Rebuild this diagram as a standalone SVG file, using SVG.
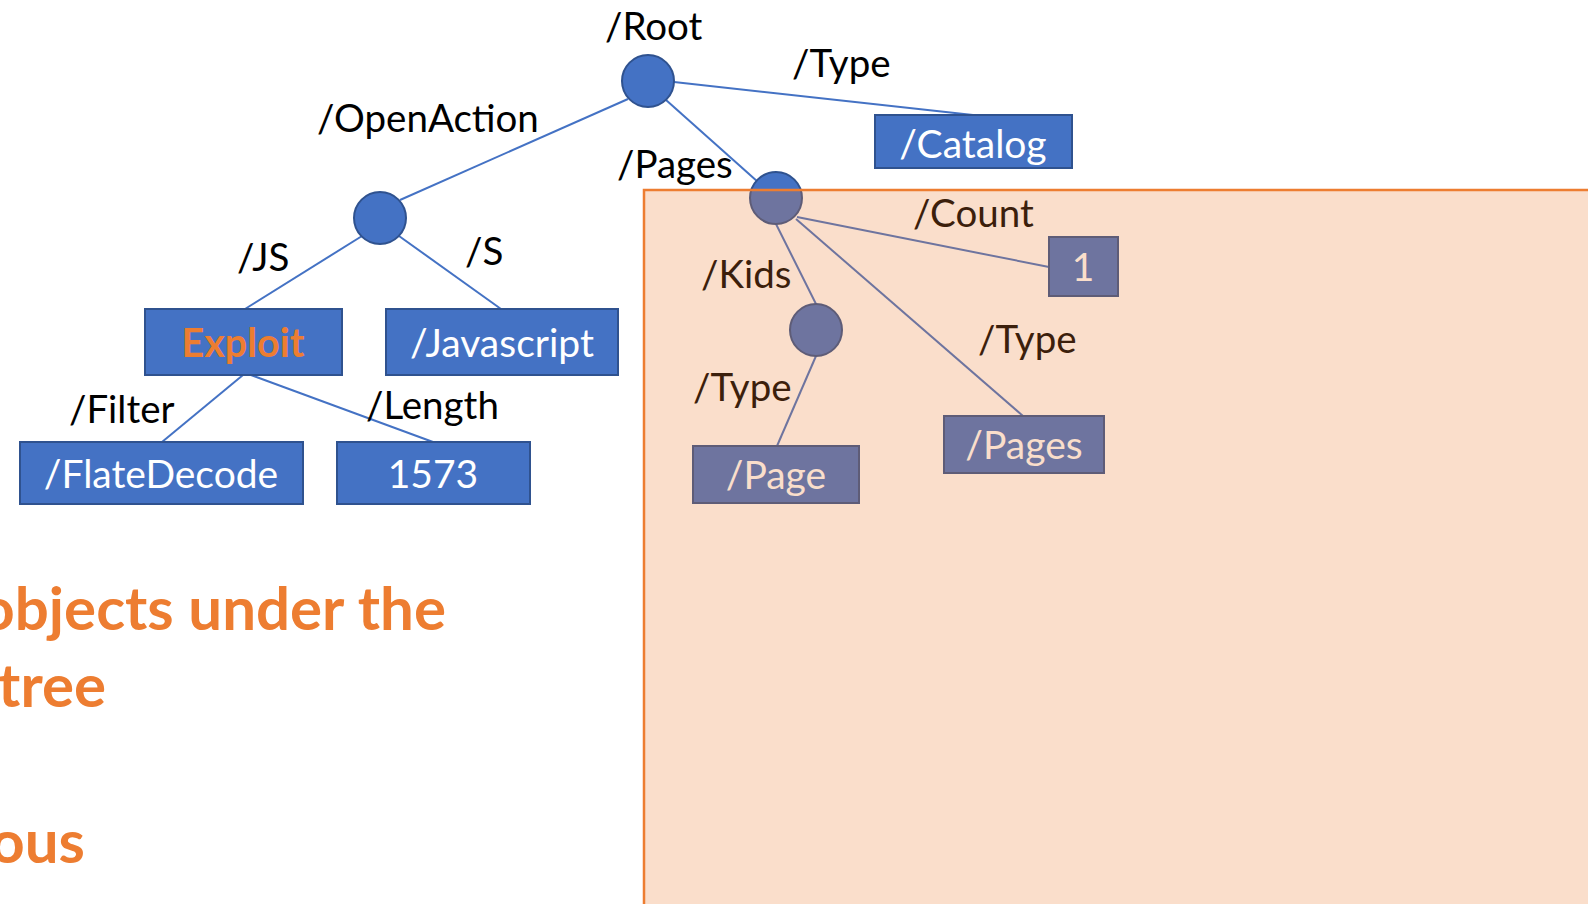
<svg xmlns="http://www.w3.org/2000/svg" width="1588" height="904" viewBox="0 0 1588 904">
  <style>
    .edge { stroke: #4472C4; stroke-width: 2; fill: none; }
    .dot { fill: #4472C4; stroke: #2F528F; stroke-width: 2; }
    .box { fill: #4472C4; stroke: #2F528F; stroke-width: 2; }
    .key { font-family: Lato, "Liberation Sans", sans-serif; font-size: 38.5px; fill: #000000; }
    .val { font-family: Lato, "Liberation Sans", sans-serif; font-size: 39px; fill: #FFFFFF; text-anchor: middle; }
    .hot { font-family: Lato, "Liberation Sans", sans-serif; font-size: 39.5px; font-weight: bold; fill: #ED7D31; text-anchor: middle; }
    .note { font-family: Lato, "Liberation Sans", sans-serif; font-size: 60px; font-weight: bold; fill: #ED7D31; text-anchor: end; }
    .region { fill: #ED7D31; fill-opacity: 0.25; stroke: #ED7D31; stroke-width: 2.5; }
  </style>
  <rect width="1588" height="904" fill="#FFFFFF"/>

  <!-- connectors -->
  <g id="connectors">
    <line class="edge" x1="628" y1="99" x2="400" y2="200"/>
    <line class="edge" x1="674" y1="82" x2="973" y2="115"/>
    <line class="edge" x1="666" y1="100" x2="758" y2="182"/>
    <line class="edge" x1="362" y1="236" x2="245" y2="309"/>
    <line class="edge" x1="399" y1="236" x2="501" y2="309"/>
    <line class="edge" x1="243" y1="375" x2="162" y2="442"/>
    <line class="edge" x1="251" y1="375" x2="433" y2="442"/>
    <line class="edge" x1="797" y1="217" x2="1049" y2="267"/>
    <line class="edge" x1="796" y1="219" x2="1023" y2="416"/>
    <line class="edge" x1="776" y1="224" x2="816" y2="304"/>
    <line class="edge" x1="816" y1="356" x2="777" y2="446"/>
  </g>

  <!-- key labels on the connectors -->
  <g id="keys">
    <text class="key" x="605" y="40">/Root</text>
    <text class="key" x="792" y="77">/Type</text>
    <text class="key" x="317" y="132">/OpenAction</text>
    <text class="key" x="617" y="178">/Pages</text>
    <text class="key" x="237" y="271">/JS</text>
    <text class="key" x="465" y="265">/S</text>
    <text class="key" x="69" y="423">/Filter</text>
    <text class="key" x="366" y="419">/Length</text>
    <text class="key" x="913" y="227">/Count</text>
    <text class="key" x="701" y="288">/Kids</text>
    <text class="key" x="978" y="353">/Type</text>
    <text class="key" x="693" y="401">/Type</text>
  </g>

  <!-- dictionary nodes -->
  <g id="root"><circle class="dot" cx="648" cy="81" r="26"/></g>
  <g id="openaction"><circle class="dot" cx="380" cy="218" r="26"/></g>
  <g id="pages"><circle class="dot" cx="776" cy="198" r="26"/></g>
  <g id="kids"><circle class="dot" cx="816" cy="330" r="26"/></g>

  <!-- value nodes -->
  <g id="catalog">
    <rect class="box" x="875" y="115" width="197" height="53"/>
    <text class="val" x="973" y="158">/Catalog</text>
  </g>
  <g id="exploit">
    <rect class="box" x="145" y="309" width="197" height="66"/>
    <text class="hot" x="243" y="357">Exploit</text>
  </g>
  <g id="javascript">
    <rect class="box" x="386" y="309" width="232" height="66"/>
    <text class="val" x="502" y="357">/Javascript</text>
  </g>
  <g id="flatedecode">
    <rect class="box" x="20" y="442" width="283" height="62"/>
    <text class="val" x="161" y="488">/FlateDecode</text>
  </g>
  <g id="length">
    <rect class="box" x="337" y="442" width="193" height="62"/>
    <text class="val" x="433" y="488">1573</text>
  </g>
  <g id="count">
    <rect class="box" x="1049" y="237" width="69" height="59"/>
    <text class="val" x="1083" y="281">1</text>
  </g>
  <g id="pages-type">
    <rect class="box" x="944" y="416" width="160" height="57"/>
    <text class="val" x="1024" y="459">/Pages</text>
  </g>
  <g id="page-type">
    <rect class="box" x="693" y="446" width="166" height="57"/>
    <text class="val" x="776" y="489">/Page</text>
  </g>

  <!-- translucent highlight over the page tree -->
  <rect class="region" x="644" y="190" width="960" height="730"/>

  <!-- slide text -->
  <g id="notes">
    <text class="note" x="446" y="630">objects under the</text>
    <text class="note" x="106" y="707">tree</text>
    <text class="note" x="85" y="863">ous</text>
  </g>
</svg>
